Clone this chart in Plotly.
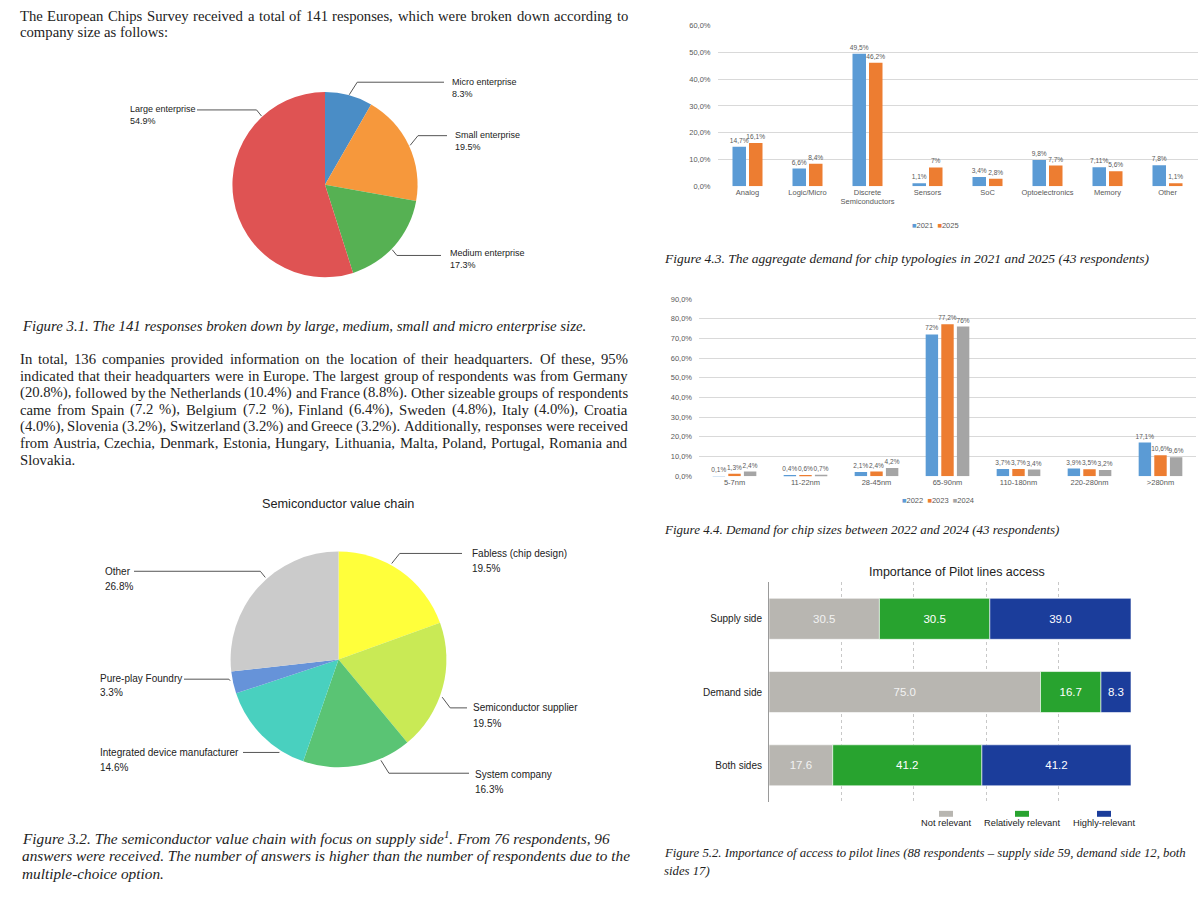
import math
import numpy as np
import plotly.graph_objects as go

W, H = 1200, 900


def X(px):
    return px / W


def Y(py):
    return 1 - py / H


# ---------------- data ----------------
size_labels = ["Micro enterprise", "Small enterprise", "Medium enterprise", "Large enterprise"]
size_values = [8.3, 19.5, 17.3, 54.9]
size_colors = ["#4a8dc6", "#f6983c", "#56b153", "#df5353"]

chain_labels = ["Fabless (chip design)", "Semiconductor supplier", "System company",
                "Integrated device manufacturer", "Pure-play Foundry", "Other"]
chain_values = [19.5, 19.5, 16.3, 14.6, 3.3, 26.8]
chain_colors = ["#ffff3b", "#c9ea55", "#5ac474", "#49d0bf", "#6693d9", "#cbcbcb"]

typ_categories = ["Analog", "Logic/Micro", "Discrete<br>Semiconductors", "Sensors", "SoC",
                  "Optoelectronics", "Memory", "Other"]
typ_years = ["2021", "2025"]
typ_2021 = [14.7, 6.6, 49.5, 1.1, 3.4, 9.8, 7.11, 7.8]
typ_2025 = [16.1, 8.4, 46.2, 7, 2.8, 7.7, 5.6, 1.1]
typ_colors = ["#5b9bd5", "#ed7d31"]
typ_ticks = [0, 10, 20, 30, 40, 50, 60]

nm_categories = ["5-7nm", "11-22nm", "28-45nm", "65-90nm", "110-180nm", "220-280nm", ">280nm"]
nm_years = ["2022", "2023", "2024"]
nm_2022 = [0.1, 0.4, 2.1, 72, 3.7, 3.9, 17.1]
nm_2023 = [1.3, 0.6, 2.4, 77.2, 3.7, 3.5, 10.6]
nm_2024 = [2.4, 0.7, 4.2, 76, 3.4, 3.2, 9.6]
nm_colors = ["#5b9bd5", "#ed7d31", "#a5a5a5"]
nm_ticks = [0, 10, 20, 30, 40, 50, 60, 70, 80, 90]

pilot_rows = ["Supply side", "Demand side", "Both sides"]
pilot_names = ["Not relevant", "Relatively relevant", "Highly-relevant"]
pilot_not = [30.5, 75.0, 17.6]
pilot_rel = [30.5, 16.7, 41.2]
pilot_high = [39.0, 8.3, 41.2]
pilot_colors = ["#b8b6b1", "#28a32f", "#1b3d9b"]
pilot_text_colors = ["#f2f2f2", "#ffffff", "#ffffff"]

# ---------------- text ----------------
intro_lines = [
    "The European Chips Survey received a total of 141 responses, which were broken down according to",
    "company size as follows:",
]
para_lines = [
    "In total, 136 companies provided information on the location of their headquarters. Of these, 95%",
    "indicated that their headquarters were in Europe. The largest group of respondents was from Germany",
    "(20.8%), followed by the Netherlands (10.4%) and France (8.8%). Other sizeable groups of respondents",
    "came from Spain (7.2 %), Belgium (7.2 %), Finland (6.4%), Sweden (4.8%), Italy (4.0%), Croatia",
    "(4.0%), Slovenia (3.2%), Switzerland (3.2%) and Greece (3.2%). Additionally, responses were received",
    "from Austria, Czechia, Denmark, Estonia, Hungary, Lithuania, Malta, Poland, Portugal, Romania and",
    "Slovakia.",
]
cap31 = "Figure 3.1. The 141 responses broken down by large, medium, small and micro enterprise size."
cap32_lines = [
    "Figure 3.2. The semiconductor value chain with focus on supply side<sup>1</sup>. From 76 respondents, 96",
    "answers were received. The number of answers is higher than the number of respondents due to the",
    "multiple-choice option.",
]
cap43 = "Figure 4.3. The aggregate demand for chip typologies in 2021 and 2025 (43 respondents)"
cap44 = "Figure 4.4. Demand for chip sizes between 2022 and 2024 (43 respondents)"
cap52_lines = [
    "Figure 5.2. Importance of access to pilot lines (88 respondents \u2013 supply side 59, demand side 12, both",
    "sides 17)",
]

SERIF = "Liberation Serif, Times New Roman, serif"
SANS = "Liberation Sans, Arial, sans-serif"
TXT = "#222222"
AX = "#595959"

# Times-compatible advance widths (1/1000 em) used to justify body text lines
_TW = {" ": 250, "!": 333, "%": 833, "(": 333, ")": 333, ",": 250, "-": 333, ".": 250,
       ":": 278, ";": 278, "?": 444}
_TW.update({d: 500 for d in "0123456789"})
_TW.update(dict(zip("ABCDEFGHIJKLMNOPQRSTUVWXYZ",
                    [722, 667, 667, 722, 611, 556, 722, 722, 333, 389, 722, 611, 889,
                     722, 722, 556, 722, 667, 556, 611, 722, 722, 944, 722, 722, 611])))
_TW.update(dict(zip("abcdefghijklmnopqrstuvwxyz",
                    [444, 500, 444, 500, 444, 333, 500, 500, 278, 278, 500, 278, 778,
                     500, 500, 500, 500, 333, 389, 278, 500, 500, 722, 500, 500, 444])))
_TW_SCALE = 1.01


def text_w(s, size):
    return sum(_TW.get(ch, 500) for ch in s) * size / 1000.0 * _TW_SCALE


def pct(v):
    return f"{v:g}".replace(".", ",") + "%"


def tick(v):
    return f"{v:.1f}".replace(".", ",") + "%"


fig = go.Figure()
annotations = []
shapes = []

# ---------------- pies ----------------
pie1_box = (232, 89, 418, 276)   # px: left, top, right, bottom
pie2_box = (229, 553, 448, 771)

for labels, values, colors, box in [
    (size_labels, size_values, size_colors, pie1_box),
    (chain_labels, chain_values, chain_colors, pie2_box),
]:
    fig.add_trace(go.Pie(
        labels=labels, values=values, sort=False, direction="clockwise", rotation=0,
        marker=dict(colors=colors, line=dict(width=0)), textinfo="none",
        showlegend=False, hoverinfo="label+percent",
        domain=dict(x=[X(box[0]), X(box[2])], y=[Y(box[3]), Y(box[1])]),
    ))

# label layout: (text_x, name_y, pct_y, line_y, line_outer_x, anchor_fraction_in_slice, side)
pie1_label_layout = [
    (450, 79, 91, 79, 444, 0.5, 1),
    (453, 132, 144, 133, 447, 0.5, 1),
    (448, 252, 264, 254, 441, 0.55, 1),
    (128, 106, 118, 107, 197, 0.785, -1),
]
pie2_label_layout = [
    (470, 555, 570, 555, 462, 0.41, 1),
    (471, 711, 727, 711, 467, 0.57, 1),
    (473, 778, 793, 777, 469, 0.29, 1),
    (98, 756, 771, 756, 243, 0.25, -1),
    (98, 681, 695, 682, 184, 0.6, -1),
    (103, 573, 588, 573, 134, 0.57, -1),
]


def pie_labels(labels, values, box, layout, fsize):
    cx = (box[0] + box[2]) / 2
    cy = (box[1] + box[3]) / 2
    r = (box[2] - box[0]) / 2
    total = sum(values)
    cum = 0.0
    for lab, val, (tx, ny, py_, ly, lx, frac, side) in zip(labels, values, layout):
        ang = (cum + frac * val) / total * 2 * math.pi
        cum += val
        ax_ = cx + (r + 1) * math.sin(ang)
        ay_ = cy - (r + 1) * math.cos(ang)
        ex = ax_ + side * min(8, abs(ly - ay_) * 0.8)
        shapes.append(dict(
            type="path", xref="paper", yref="paper",
            path=f"M {X(ax_)} {Y(ay_)} L {X(ex)} {Y(ly)} L {X(lx)} {Y(ly)}",
            line=dict(color="#555555", width=1),
        ))
        annotations.append(dict(x=X(tx), y=Y(ny), xref="paper", yref="paper", text=lab,
                                showarrow=False, xanchor="left", yanchor="middle",
                                font=dict(family=SANS, size=fsize, color="#222")))
        annotations.append(dict(x=X(tx), y=Y(py_), xref="paper", yref="paper",
                                text=f"{val:.1f}%", showarrow=False, xanchor="left",
                                yanchor="middle", font=dict(family=SANS, size=fsize, color="#222")))


pie_labels(size_labels, size_values, pie1_box, pie1_label_layout, 9.0)
pie_labels(chain_labels, chain_values, pie2_box, pie2_label_layout, 10.0)

annotations.append(dict(x=X(338), y=Y(505), xref="paper", yref="paper", xanchor="center",
                        text="Semiconductor value chain", showarrow=False,
                        font=dict(family=SANS, size=12.7, color="#222")))

# ---------------- Figure 4.3 (grouped bars) ----------------
typ_series = [typ_2021, typ_2025]
typ_w, typ_gap = 0.225, 0.05
typ_start = -(len(typ_series) * typ_w + (len(typ_series) - 1) * typ_gap) / 2
for i, (name, vals, col) in enumerate(zip(typ_years, typ_series, typ_colors)):
    fig.add_trace(go.Bar(
        x=typ_categories, y=vals, name=name, marker=dict(color=col, line=dict(width=0)),
        width=typ_w, offset=typ_start + i * (typ_w + typ_gap),
        text=[pct(v) for v in vals], textposition="outside", constraintext="none",
        textfont=dict(family=SANS, size=6.6, color=AX), cliponaxis=False,
        xaxis="x", yaxis="y", showlegend=False,
    ))

# ---------------- Figure 4.4 (grouped bars) ----------------
nm_series = [nm_2022, nm_2023, nm_2024]
nm_w, nm_gap = 0.175, 0.045
nm_start = -(len(nm_series) * nm_w + (len(nm_series) - 1) * nm_gap) / 2
for i, (name, vals, col) in enumerate(zip(nm_years, nm_series, nm_colors)):
    fig.add_trace(go.Bar(
        x=nm_categories, y=vals, name=name, marker=dict(color=col, line=dict(width=0)),
        width=nm_w, offset=nm_start + i * (nm_w + nm_gap),
        text=[pct(v) for v in vals], textposition="outside", constraintext="none",
        textfont=dict(family=SANS, size=6.5, color=AX), cliponaxis=False,
        xaxis="x2", yaxis="y2", showlegend=False,
    ))

# ---------------- Figure 5.2 (stacked horizontal bars) ----------------
pilot_series = [pilot_not, pilot_rel, pilot_high]
bases = np.cumsum([[0] * len(pilot_rows)] + pilot_series[:-1], axis=0)
for name, vals, base, col, tcol in zip(pilot_names, pilot_series, bases, pilot_colors, pilot_text_colors):
    fig.add_trace(go.Bar(
        y=pilot_rows, x=vals, base=list(base), orientation="h", name=name,
        marker=dict(color=col, line=dict(width=0.6, color="#ffffff")), width=0.56, offset=-0.28,
        text=[f"{v:.1f}" for v in vals], textposition="inside", insidetextanchor="middle",
        textangle=0, constraintext="none",
        textfont=dict(family=SANS, size=11.5, color=tcol),
        xaxis="x3", yaxis="y3", showlegend=False,
    ))


# custom legends
def legend_html(names, colors):
    return "  ".join(f"<span style='color:{c}'>\u25a0</span>{n}" for n, c in zip(names, colors))


annotations.append(dict(x=X(935), y=Y(217), xref="paper", yref="paper", xanchor="center",
                        text=legend_html(typ_years, typ_colors), showarrow=False,
                        font=dict(family=SANS, size=7.5, color=AX)))
annotations.append(dict(x=X(938), y=Y(502), xref="paper", yref="paper", xanchor="center",
                        text=legend_html(nm_years, nm_colors), showarrow=False,
                        font=dict(family=SANS, size=7.5, color=AX)))

pilot_legend_x = [946, 1022, 1104]
for name, col, lx in zip(pilot_names, pilot_colors, pilot_legend_x):
    shapes.append(dict(type="rect", xref="paper", yref="paper",
                       x0=X(lx - 7), x1=X(lx + 7), y0=Y(821), y1=Y(815),
                       fillcolor=col, line=dict(width=0)))
    annotations.append(dict(x=X(lx), y=Y(834), xref="paper", yref="paper", text=name,
                            xanchor="center", showarrow=False,
                            font=dict(family=SANS, size=9.3, color="#222")))

annotations.append(dict(x=X(957), y=Y(574), xref="paper", yref="paper", xanchor="center",
                        text="Importance of Pilot lines access", showarrow=False,
                        font=dict(family=SANS, size=12.5, color="#222")))


# ---------------- body text ----------------
def add_lines(lines, x0, y0, dy, size, italic=False):
    for k, line in enumerate(lines):
        annotations.append(dict(
            x=X(x0), y=Y(y0 + k * dy), xref="paper", yref="paper",
            text=f"<i>{line}</i>" if italic else line, showarrow=False,
            xanchor="left", yanchor="middle",
            font=dict(family=SERIF, size=size, color=TXT,
                      style="italic" if italic else "normal")))


def add_justified(lines, x0, x1, y0, dy, size):
    """Justify every line except the last one of the block."""
    for k, line in enumerate(lines):
        y = Y(y0 + k * dy)
        words = line.split(" ")
        if k == len(lines) - 1 or len(words) < 2:
            annotations.append(dict(x=X(x0), y=y, xref="paper", yref="paper", text=line,
                                    showarrow=False, xanchor="left", yanchor="middle",
                                    borderpad=0, borderwidth=0,
                                    font=dict(family=SERIF, size=size, color=TXT)))
            continue
        widths = [text_w(w, size) for w in words]
        gap = (x1 - x0 - sum(widths)) / (len(words) - 1)
        x = x0
        for j, (w, ww) in enumerate(zip(words, widths)):
            last = j == len(words) - 1
            annotations.append(dict(x=X(x1 if last else x), y=y, xref="paper", yref="paper",
                                    text=w, showarrow=False,
                                    xanchor="right" if last else "left", yanchor="middle",
                                    borderpad=0, borderwidth=0,
                                    font=dict(family=SERIF, size=size, color=TXT)))
            x += ww + gap


add_justified(intro_lines, 20, 628, 12, 16.5, 14.7)
add_lines([cap31], 20, 325, 17, 14.85, italic=True)
add_justified(para_lines, 20, 628, 359, 16.9, 14.7)
add_lines(cap32_lines, 20, 842, 18, 15.3, italic=True)
add_lines([cap43], 662, 257, 17, 13.5, italic=True)
add_lines([cap44], 662, 531, 17, 13.0, italic=True)
add_lines(cap52_lines, 662, 858, 17.5, 12.75, italic=True)

# ---------------- layout ----------------
grid = "#d9d9d9"
fig.update_layout(
    width=W, height=H, margin=dict(l=0, r=0, t=0, b=0),
    paper_bgcolor="white", plot_bgcolor="white",
    barmode="overlay", showlegend=False,
    annotations=annotations, shapes=shapes,
    xaxis=dict(domain=[X(717.5), X(1197.5)], anchor="y", showgrid=False, showline=False,
               ticks="", tickfont=dict(family=SANS, size=7.5, color=AX), fixedrange=True),
    yaxis=dict(domain=[Y(184), Y(22)], anchor="x", range=[0, 60], tickvals=typ_ticks,
               ticktext=[tick(v) for v in typ_ticks], gridcolor=grid, gridwidth=1,
               zeroline=False, showline=False, ticks="", ticklabelstandoff=6,
               tickfont=dict(family=SANS, size=7.5, color=AX)),
    xaxis2=dict(domain=[X(699), X(1196)], anchor="y2", showgrid=False, showline=False,
                ticks="", tickfont=dict(family=SANS, size=7.5, color=AX)),
    yaxis2=dict(domain=[Y(477), Y(298)], anchor="x2", range=[0, 90], tickvals=nm_ticks,
                ticktext=[tick(v) for v in nm_ticks], gridcolor=grid, gridwidth=1,
                zeroline=False, showline=False, ticks="", ticklabelstandoff=6,
                tickfont=dict(family=SANS, size=7.5, color=AX)),
    xaxis3=dict(domain=[X(769), X(1131)], anchor="y3", range=[0, 100],
                tickvals=[0, 20, 40, 60, 80, 100], showticklabels=False, ticks="",
                showgrid=True, gridcolor="#c8c8c8", griddash="dot", gridwidth=1,
                zeroline=False, showline=False),
    yaxis3=dict(domain=[Y(806), Y(584)], anchor="x3", autorange="reversed",
                categoryorder="array", categoryarray=pilot_rows, showgrid=False,
                showline=True, linecolor="#9a9a9a", linewidth=1, ticks="",
                ticklabelstandoff=4, tickfont=dict(family=SANS, size=10, color="#222")),
)

fig.write_html(
    "out.html",
    config={"displayModeBar": False},
    post_script="document.body.style.margin='0';document.body.style.overflow='hidden';",
)
